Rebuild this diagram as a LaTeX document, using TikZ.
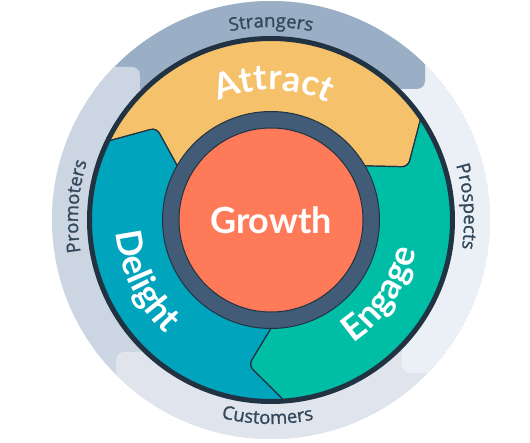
\documentclass[tikz,border=0pt]{standalone}
\usepackage{fontspec}
\setmainfont{Lato}
\newfontfamily\bandfont{Open Sans}[FakeBold=1.2]
\usetikzlibrary{decorations.text}

\definecolor{strangers}{HTML}{9AAFC5}
\definecolor{prospects}{HTML}{EAF0F6}
\definecolor{customers}{HTML}{DFE4ED}
\definecolor{promoters}{HTML}{CBD6E2}
\definecolor{attract}{HTML}{F5C26B}
\definecolor{engage}{HTML}{00BDA5}
\definecolor{delight}{HTML}{00A4BD}
\definecolor{growth}{HTML}{FF7A59}
\definecolor{ring}{HTML}{425B76}
\definecolor{navy}{HTML}{213343}
\definecolor{slatetext}{HTML}{33475B}

\tikzset{
  bandlabel/.style={decorate, decoration={text along path, text align=center,
      text color=slatetext, text={|\bandfont\fontsize{18.5}{18.5}\selectfont|#1}}},
  stagelabel/.style={decorate, decoration={text along path, text align=center,
      text color=white, text={|\fontsize{35.5}{35.5}\selectfont\bfseries|#1}}},
  seam/.style={draw=navy, line width=1.2pt, rounded corners=6pt},
  bandpart/.style={rounded corners=8pt},
}

\begin{document}
\begin{tikzpicture}[x=1pt, y=1pt]
  \useasboundingbox (-271,-222) rectangle (259,220);

  % outer band, four overlapping parts
  \begin{scope}
    \clip (0,0) circle[radius=219];
    \fill[promoters] (0,0) circle[radius=219];
    \fill[customers, bandpart] (-155,-132) -- (300,-132) -- (300,-300) -- (-155,-300) -- cycle;
    \fill[prospects, bandpart] (131,-153) -- (131,300) -- (300,300) -- (300,-153) -- cycle;
    \fill[strangers, bandpart] (154,131) -- (-300,131) -- (-300,300) -- (154,300) -- cycle;
    \fill[promoters, bandpart] (-131,153) -- (-131,0) -- (-300,0) -- (-300,153) -- cycle;
  \end{scope}

  % the three stages
  \begin{scope}
    \clip (0,0) circle[radius=181.5];
    \foreach \ang/\col in {0/attract, -120/engage, 120/delight}
      \filldraw[seam, fill=\col, rotate=\ang] (0,0) -- (32.5:101) -- (21.2:147) -- (38.1:197)
        -- (38.1:300) arc[start angle=38.1, end angle=158.1, radius=300]
        -- (158.1:197) -- (141.2:147) -- (152.5:101) -- cycle;
  \end{scope}
  \draw[navy, line width=5pt] (0,0) circle[radius=181.5];

  % hub
  \filldraw[fill=ring, draw=navy, line width=1pt] (0,0) circle[radius=108.5];
  \node[circle, fill=growth, draw=navy, line width=1pt, minimum size=184pt, inner sep=0pt,
        text=white, font=\fontsize{36}{36}\selectfont\bfseries] (hub) at (0,0) {Growth};

  % labels
  \path[stagelabel=Attract] (139:130) arc[start angle=139, end angle=39, radius=130];
  \path[stagelabel=Engage] (-84:148) arc[start angle=-84, end angle=16, radius=148];
  \path[stagelabel=Delight] (156:155) arc[start angle=156, end angle=256, radius=155];
  \path[bandlabel=Strangers] (130:193) arc[start angle=130, end angle=50, radius=193];
  \path[bandlabel=Prospects] (44:193) arc[start angle=44, end angle=-36, radius=193];
  \path[bandlabel=Promoters] (216:193) arc[start angle=216, end angle=136, radius=193];
  \path[bandlabel=Customers] (-131:204) arc[start angle=-131, end angle=-51, radius=204];
\end{tikzpicture}
\end{document}
